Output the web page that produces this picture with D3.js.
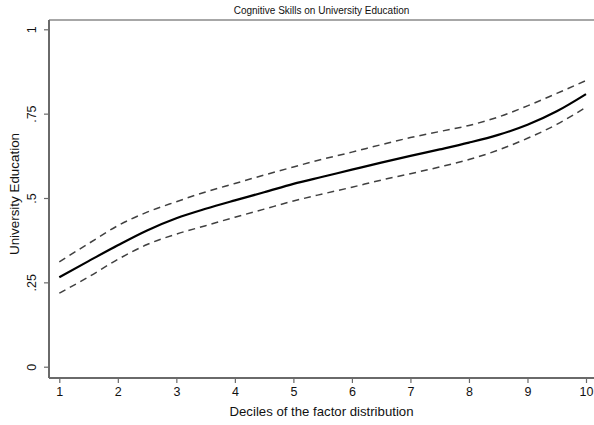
<!DOCTYPE html>
<html>
<head>
<meta charset="utf-8">
<script src="https://cdn.jsdelivr.net/npm/d3@7"></script>
<style>
  html, body { margin: 0; padding: 0; background: #fff; }
  svg { display: block; font-family: "Liberation Sans", Arial, Helvetica, sans-serif; }
</style>
</head>
<body>
<svg id="chart" width="594" height="425"></svg>
<script>
// Deciles of the factor distribution (half-decile steps)
const deciles = [1, 1.5, 2, 2.5, 3, 3.5, 4, 4.5, 5, 5.5, 6, 6.5, 7, 7.5, 8, 8.5, 9, 9.5, 10];
// Predicted probability of university education
const estimate = [0.265, 0.313, 0.360, 0.404, 0.440, 0.468, 0.493, 0.517, 0.542, 0.563,
                  0.584, 0.605, 0.625, 0.644, 0.664, 0.687, 0.717, 0.757, 0.808];
// Upper and lower confidence bounds
const upperBound = [0.311, 0.365, 0.418, 0.458, 0.489, 0.518, 0.543, 0.568, 0.592, 0.615,
                    0.636, 0.658, 0.679, 0.697, 0.715, 0.740, 0.773, 0.810, 0.848];
const lowerBound = [0.218, 0.266, 0.318, 0.362, 0.393, 0.418, 0.443, 0.467, 0.491, 0.512,
                    0.532, 0.553, 0.572, 0.592, 0.614, 0.642, 0.677, 0.718, 0.769];

const xTicks = [1, 2, 3, 4, 5, 6, 7, 8, 9, 10];
const yTicks = [0, 0.25, 0.5, 0.75, 1];
const yTickLabels = ["0", ".25", ".5", ".75", "1"];

const titleText = "Cognitive Skills on University Education";
const xTitle = "Deciles of the factor distribution";
const yTitle = "University Education";

const svg = d3.select("#chart");

// plot frame
const frame = { left: 49, top: 20, right: 594, bottom: 378 };

const x = d3.scaleLinear().domain([1, 10]).range([59.3, 586]);
const y = d3.scaleLinear().domain([0, 1]).range([366.7, 29.3]);

const axisColor = "#6a6a6a";

// frame lines: top, left, bottom
svg.append("line")
  .attr("x1", frame.left).attr("x2", frame.right)
  .attr("y1", frame.top).attr("y2", frame.top)
  .attr("stroke", "#8a8a8a").attr("stroke-width", 1.6);
svg.append("line")
  .attr("x1", frame.left).attr("x2", frame.left)
  .attr("y1", frame.top).attr("y2", frame.bottom)
  .attr("stroke", axisColor).attr("stroke-width", 2);
svg.append("line")
  .attr("x1", frame.left).attr("x2", frame.right)
  .attr("y1", frame.bottom).attr("y2", frame.bottom)
  .attr("stroke", axisColor).attr("stroke-width", 2);

// y axis
const yAxis = svg.append("g")
  .attr("transform", `translate(${frame.left - 1},0)`)
  .call(d3.axisLeft(y).tickValues(yTicks).tickSize(4).tickPadding(7)
    .tickFormat((d, i) => yTickLabels[i]));
yAxis.select(".domain").remove();
yAxis.selectAll(".tick line").attr("stroke", axisColor).attr("stroke-width", 1.2);
yAxis.selectAll(".tick text")
  .attr("font-size", 12.5).attr("fill", "#111")
  .attr("text-anchor", "middle")
  .attr("x", null).attr("dy", null)
  .attr("transform", "translate(-15,0) rotate(-90)")
  .attr("y", 0).attr("dominant-baseline", "middle");

// x axis
const xAxis = svg.append("g")
  .attr("transform", `translate(0,${frame.bottom + 1})`)
  .call(d3.axisBottom(x).tickValues(xTicks).tickSize(4).tickPadding(4)
    .tickFormat(d3.format("d")));
xAxis.select(".domain").remove();
xAxis.selectAll(".tick line").attr("stroke", axisColor).attr("stroke-width", 1.2);
xAxis.selectAll(".tick text").attr("font-size", 12.5).attr("fill", "#111");

// titles
svg.append("text")
  .attr("x", (frame.left + frame.right) / 2).attr("y", 14)
  .attr("text-anchor", "middle").attr("font-size", 10).attr("fill", "#111")
  .text(titleText);
svg.append("text")
  .attr("x", (frame.left + frame.right) / 2).attr("y", 416)
  .attr("text-anchor", "middle").attr("font-size", 13.2).attr("fill", "#111")
  .text(xTitle);
svg.append("text")
  .attr("transform", `translate(19,${y(0.5) - 4}) rotate(-90)`)
  .attr("text-anchor", "middle").attr("font-size", 13.4).attr("fill", "#111")
  .text(yTitle);

// estimate and confidence bounds
const lineGen = vals => d3.line()
  .x((d, i) => x(deciles[i]))
  .y(d => y(d))
  .curve(d3.curveMonotoneX)(vals);

svg.append("path").attr("d", lineGen(upperBound))
  .attr("fill", "none").attr("stroke", "#404040")
  .attr("stroke-width", 1.5).attr("stroke-dasharray", "7,5");
svg.append("path").attr("d", lineGen(lowerBound))
  .attr("fill", "none").attr("stroke", "#404040")
  .attr("stroke-width", 1.5).attr("stroke-dasharray", "7,5");
svg.append("path").attr("d", lineGen(estimate))
  .attr("fill", "none").attr("stroke", "#000")
  .attr("stroke-width", 2.2);
</script>
</body>
</html>
